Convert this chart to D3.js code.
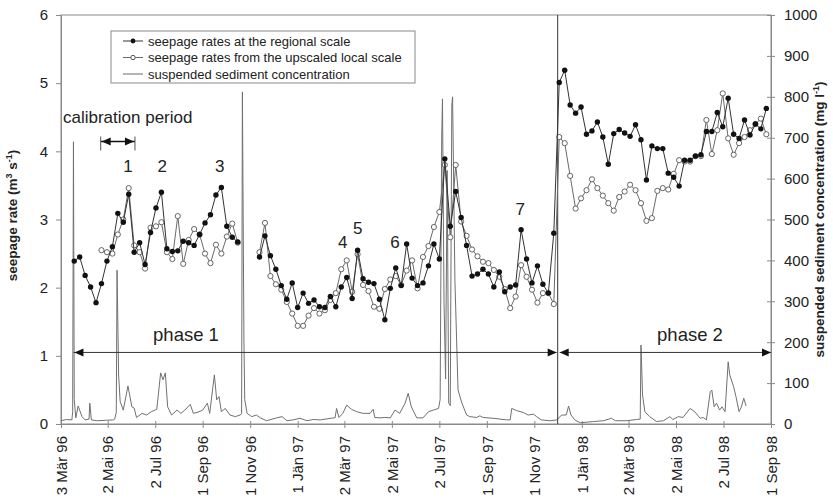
<!DOCTYPE html>
<meta charset="utf-8">
<style>
body { margin: 0; background: #fff; }
text { font-family: "Liberation Sans", Arial, sans-serif; fill: #222; }
</style>
<svg width="833" height="499"></svg>
<script src="https://d3js.org/d3.v7.min.js"></script>
<script>

// x axis ticks
var tickDates = ["1996-03-03","1996-05-02","1996-07-02","1996-09-01","1996-11-01","1997-01-01",
  "1997-03-02","1997-05-02","1997-07-02","1997-09-01","1997-11-01","1998-01-01",
  "1998-03-02","1998-05-02","1998-07-02","1998-09-01"];
var tickLabels = ["3 Mär 96","2 Mai 96","2 Jul 96","1 Sep 96","1 Nov 96","1 Jän 97",
  "2 Mär 97","2 Mai 97","2 Jul 97","1 Sep 97","1 Nov 97","1 Jän 98",
  "2 Mär 98","2 Mai 98","2 Jul 98","1 Sep 98"];

// weekly seepage rates (m3/s), first sample 20 Mar 96
var weeklyStart = "1996-03-20";
var regional = [2.39,2.45,2.18,2.01,1.78,2.06,2.39,2.60,3.09,2.96,3.37,2.52,2.66,2.34,2.81,3.17,
  3.40,2.57,2.53,2.54,2.68,2.66,2.62,2.78,2.95,3.07,3.36,3.47,2.90,2.74,2.67,
  null,null,null,2.45,
  2.76,2.47,2.27,2.03,1.83,2.07,1.71,1.92,1.77,1.82,1.72,1.71,1.87,1.72,2.01,2.15,1.84,2.55,2.13,2.08,
  2.06,1.83,1.53,1.99,2.29,2.03,2.64,2.14,2.03,2.07,2.32,2.64,
  2.42,3.89,2.90,3.41,3.03,2.62,
  2.17,2.20,2.27,2.20,2.01,2.23,1.94,2.01,2.04,2.85,2.42,2.07,2.32,2.05,1.92,2.80,
  5.01,5.19,4.68,4.56,4.65,4.25,4.30,4.43,4.21,3.81,4.26,4.32,4.27,4.22,4.39,4.17,3.58,4.08,4.04,4.04,
  3.68,3.62,3.49,3.87,3.87,3.93,3.95,4.29,4.29,4.57,4.36,4.78,4.25,4.19,4.46,4.24,4.40,4.33,4.63];
var upscaled = [null,null,null,null,null,
  2.55,2.52,2.50,2.78,3.00,3.46,2.62,2.52,2.28,2.88,2.90,2.96,2.52,2.42,3.05,2.35,2.70,2.86,2.78,2.50,
  2.36,2.63,2.50,2.75,2.94,2.66,
  null,null,null,2.52,
  2.95,2.17,2.05,1.97,1.79,1.62,1.44,1.44,1.59,1.70,1.62,1.67,1.82,1.92,2.27,2.40,1.94,2.49,2.04,1.95,
  1.72,1.69,1.98,2.12,2.17,2.04,2.25,2.40,1.99,2.45,2.61,2.89,
  3.11,3.80,2.74,3.80,2.97,2.76,
  2.56,2.46,2.38,2.36,2.26,2.16,1.98,1.70,1.87,2.33,2.16,1.97,1.78,1.92,1.92,1.76,
  4.21,4.12,3.64,3.16,3.31,3.43,3.59,3.46,3.35,3.24,3.13,3.33,3.41,3.51,3.43,3.24,2.98,3.02,3.42,3.46,
  3.44,3.67,3.87,3.85,3.85,3.93,3.93,4.46,3.96,4.31,4.85,4.19,3.95,4.12,4.21,4.31,4.40,4.48,4.25];

// suspended sediment concentration (mg/l), day = days after 3 Mar 96
var sedDay = [0,7,14,15,16,17,19,22,27,31,36,37,39,46,57,67,69,71,72,74,76,80,86,91,94,97,104,110,116,123,
  128,131,134,137,142,149,154,159,166,170,176,182,188,191,197,200,203,206,211,217,224,230,232,233,235,236,
  239,245,251,256,264,277,284,290,298,307,316,324,333,350,352,354,357,362,367,373,380,388,397,401,403,
  410,416,423,429,435,442,446,450,457,465,472,478,485,487,489,490,492,494,496,498,500,502,503,506,510,
  515,521,525,534,538,542,555,573,577,579,585,594,600,607,611,617,628,637,643,649,652,655,660,667,684,
  697,707,712,727,739,744,745,747,750,756,765,774,782,786,793,799,808,814,821,825,829,834,836,839,842,
  846,849,853,857,859,864,867,871,874,877,880];
var sedConc = [8,11,10,30,690,60,15,44,18,10,12,51,10,8,9,10,12,28,376,120,55,34,93,42,39,16,26,22,30,36,
  125,108,125,42,22,34,26,34,48,26,29,34,51,26,120,59,67,30,38,22,18,22,25,812,200,60,
  26,18,22,15,8,15,18,8,10,14,8,11,10,15,15,38,16,26,46,36,30,26,26,36,16,
  15,16,15,34,26,51,75,42,15,15,30,34,38,60,700,795,300,110,620,51,45,780,800,350,83,
  51,22,18,16,20,16,14,10,10,38,33,28,22,24,18,10,8,10,22,22,44,22,10,3,6,
  8,14,8,8,11,12,193,71,30,18,6,8,18,11,18,16,38,30,14,16,10,79,83,42,51,
  34,42,30,152,120,91,67,30,42,63,44];

// annotations
var phaseBreak = "1997-12-01";
var phaseStart = "1996-03-19";
var calibration = ["1996-04-23", "1996-06-06"];
var eventLabels = ["1","2","3","4","5","6","7"];
var eventDates = ["1996-05-28","1996-07-11","1996-09-23","1997-02-28","1997-03-19","1997-05-06","1997-10-14"];
var eventLevels = [3.69,3.69,3.69,2.58,2.78,2.58,3.07];

var parse = d3.timeParse("%Y-%m-%d");
var t0 = parse("1996-03-03");

var svg = d3.select("svg");
var mLeft = 61, mRight = 771, mTop = 15, mBottom = 424;

var x = d3.scaleTime().domain([t0, parse("1998-09-01")]).range([mLeft, mRight]);
var yL = d3.scaleLinear().domain([0, 6]).range([mBottom, mTop]);
var yR = d3.scaleLinear().domain([0, 1000]).range([mBottom, mTop]);

var start = parse(weeklyStart);
var regData = regional.map(function(v, i) { return { date: d3.timeDay.offset(start, 7 * i), v: v }; });
var upData = upscaled.map(function(v, i) { return { date: d3.timeDay.offset(start, 7 * i), v: v }; });
var sedData = sedDay.map(function(d, i) { return { date: d3.timeDay.offset(t0, d), v: sedConc[i] }; });

// frame
svg.append("rect")
  .attr("x", mLeft).attr("y", mTop)
  .attr("width", mRight - mLeft).attr("height", mBottom - mTop)
  .attr("fill", "none").attr("stroke", "#8a8a8a");

// left axis
var gL = svg.append("g").attr("transform", "translate(" + mLeft + ",0)")
  .call(d3.axisLeft(yL).tickValues([0,1,2,3,4,5,6]).tickFormat(d3.format("d")).tickSize(5).tickPadding(8));
gL.select(".domain").attr("stroke", "#8a8a8a");
gL.selectAll(".tick line").attr("stroke", "#8a8a8a");
gL.selectAll("text").attr("font-size", 15).attr("font-family", null).attr("fill", "#222");

// right axis, ticks cross the line
var gR = svg.append("g").attr("transform", "translate(" + mRight + ",0)")
  .call(d3.axisRight(yR).tickValues(d3.range(0, 1001, 100)).tickFormat(d3.format("d")).tickSize(4).tickPadding(9));
gR.select(".domain").attr("stroke", "#8a8a8a");
gR.selectAll(".tick line").attr("stroke", "#8a8a8a").attr("x1", -4);
gR.selectAll("text").attr("font-size", 15).attr("font-family", null).attr("fill", "#222");

// bottom axis
var gB = svg.append("g").attr("transform", "translate(0," + mBottom + ")")
  .call(d3.axisBottom(x).tickValues(tickDates.map(parse)).tickSize(4)
    .tickFormat(function(d, i) { return tickLabels[i]; }));
gB.select(".domain").attr("stroke", "#8a8a8a");
gB.selectAll(".tick line").attr("stroke", "#8a8a8a").attr("y1", -3);
gB.selectAll("text")
  .attr("font-size", 15).attr("font-family", null).attr("fill", "#222")
  .attr("text-anchor", "end")
  .attr("transform", "rotate(-90)")
  .attr("x", -12).attr("y", 0).attr("dy", "0.35em");

// axis titles
svg.append("text")
  .attr("transform", "translate(17," + ((mTop + mBottom) / 2 - 4) + ") rotate(-90)")
  .attr("text-anchor", "middle").attr("font-size", 13.5).attr("font-weight", "bold")
  .html('seepage rate (m<tspan dy="-5" font-size="9">3</tspan><tspan dy="5"> s</tspan><tspan dy="-5" font-size="9">-1</tspan><tspan dy="5">)</tspan>');
svg.append("text")
  .attr("transform", "translate(824," + ((mTop + mBottom) / 2) + ") rotate(-90)")
  .attr("text-anchor", "middle").attr("font-size", 13.5).attr("font-weight", "bold")
  .html('suspended sediment concentration (mg l<tspan dy="-5" font-size="9">-1</tspan><tspan dy="5">)</tspan>');

// sediment concentration
svg.append("path")
  .datum(sedData)
  .attr("fill", "none").attr("stroke", "#707070").attr("stroke-width", 1)
  .attr("d", d3.line().x(function(d) { return x(d.date); }).y(function(d) { return yR(d.v); }));

// phase separation
var xb = x(parse(phaseBreak));
svg.append("line")
  .attr("x1", xb).attr("x2", xb).attr("y1", mTop).attr("y2", mBottom)
  .attr("stroke", "#333").attr("stroke-width", 1);

var line = d3.line()
  .defined(function(d) { return d.v != null; })
  .x(function(d) { return x(d.date); })
  .y(function(d) { return yL(d.v); });

// upscaled local scale
svg.append("path").datum(upData)
  .attr("fill", "none").attr("stroke", "#6a6a6a").attr("stroke-width", 1)
  .attr("d", line);
svg.append("g").selectAll("circle")
  .data(upData.filter(function(d) { return d.v != null; }))
  .enter().append("circle")
  .attr("cx", function(d) { return x(d.date); })
  .attr("cy", function(d) { return yL(d.v); })
  .attr("r", 2.6).attr("fill", "#fff").attr("stroke", "#555").attr("stroke-width", 0.9);

// regional scale
svg.append("path").datum(regData)
  .attr("fill", "none").attr("stroke", "#333").attr("stroke-width", 1)
  .attr("d", line);
svg.append("g").selectAll("circle")
  .data(regData.filter(function(d) { return d.v != null; }))
  .enter().append("circle")
  .attr("cx", function(d) { return x(d.date); })
  .attr("cy", function(d) { return yL(d.v); })
  .attr("r", 2.7).attr("fill", "#111");

// arrows
function head(px, py, dir) {
  svg.append("path")
    .attr("d", "M" + px + "," + py + "l" + (-dir * 9) + ",-4l0,8z")
    .attr("fill", "#111");
}
var ya = yL(1.05);
var xs = x(parse(phaseStart));
svg.append("line").attr("x1", xs).attr("x2", xb - 1).attr("y1", ya).attr("y2", ya).attr("stroke", "#333");
svg.append("line").attr("x1", xb + 2).attr("x2", mRight).attr("y1", ya).attr("y2", ya).attr("stroke", "#333");
head(xs + 1, ya, -1);
head(xb - 1, ya, 1);
head(xb + 2, ya, -1);
head(mRight, ya, 1);

svg.append("text").attr("x", 186).attr("y", ya - 11)
  .attr("text-anchor", "middle").attr("font-size", 18.5).text("phase 1");
svg.append("text").attr("x", 690).attr("y", ya - 11)
  .attr("text-anchor", "middle").attr("font-size", 18.5).text("phase 2");

// calibration period
var c0 = x(parse(calibration[0])), c1 = x(parse(calibration[1]));
var yc = 141.5;
svg.append("text").attr("x", 63).attr("y", 123).attr("font-size", 17).text("calibration period");
svg.append("line").attr("x1", c0).attr("x2", c1).attr("y1", yc).attr("y2", yc).attr("stroke", "#111").attr("stroke-width", 1.5);
svg.append("line").attr("x1", c0).attr("x2", c0).attr("y1", yc - 5).attr("y2", yc + 9).attr("stroke", "#555");
svg.append("line").attr("x1", c1).attr("x2", c1).attr("y1", yc - 5).attr("y2", yc + 9).attr("stroke", "#555");
head(c0 + 1, yc, -1);
head(c1 - 1, yc, 1);

// event numbers
svg.append("g").selectAll("text")
  .data(eventLabels)
  .enter().append("text")
  .attr("x", function(d, i) { return x(parse(eventDates[i])); })
  .attr("y", function(d, i) { return yL(eventLevels[i]); })
  .attr("text-anchor", "middle").attr("font-size", 17)
  .text(function(d) { return d; });

// legend
var lg = svg.append("g").attr("transform", "translate(111,31)");
lg.append("rect").attr("width", 304).attr("height", 52)
  .attr("fill", "#fff").attr("stroke", "#8a8a8a");
var legendItems = ["seepage rates at the regional scale", "seepage rates from the upscaled local scale", "suspended sediment concentration"];
legendItems.forEach(function(name, i) {
  var ly = 10 + i * 16.5;
  lg.append("line").attr("x1", 12).attr("x2", 32).attr("y1", ly).attr("y2", ly)
    .attr("stroke", i == 0 ? "#333" : "#6a6a6a");
  if (i == 0) lg.append("circle").attr("cx", 22).attr("cy", ly).attr("r", 2.4).attr("fill", "#111");
  if (i == 1) lg.append("circle").attr("cx", 22).attr("cy", ly).attr("r", 2.2).attr("fill", "#fff").attr("stroke", "#555");
  lg.append("text").attr("x", 37).attr("y", ly + 4.5).attr("font-size", 13).text(name);
});

</script>
